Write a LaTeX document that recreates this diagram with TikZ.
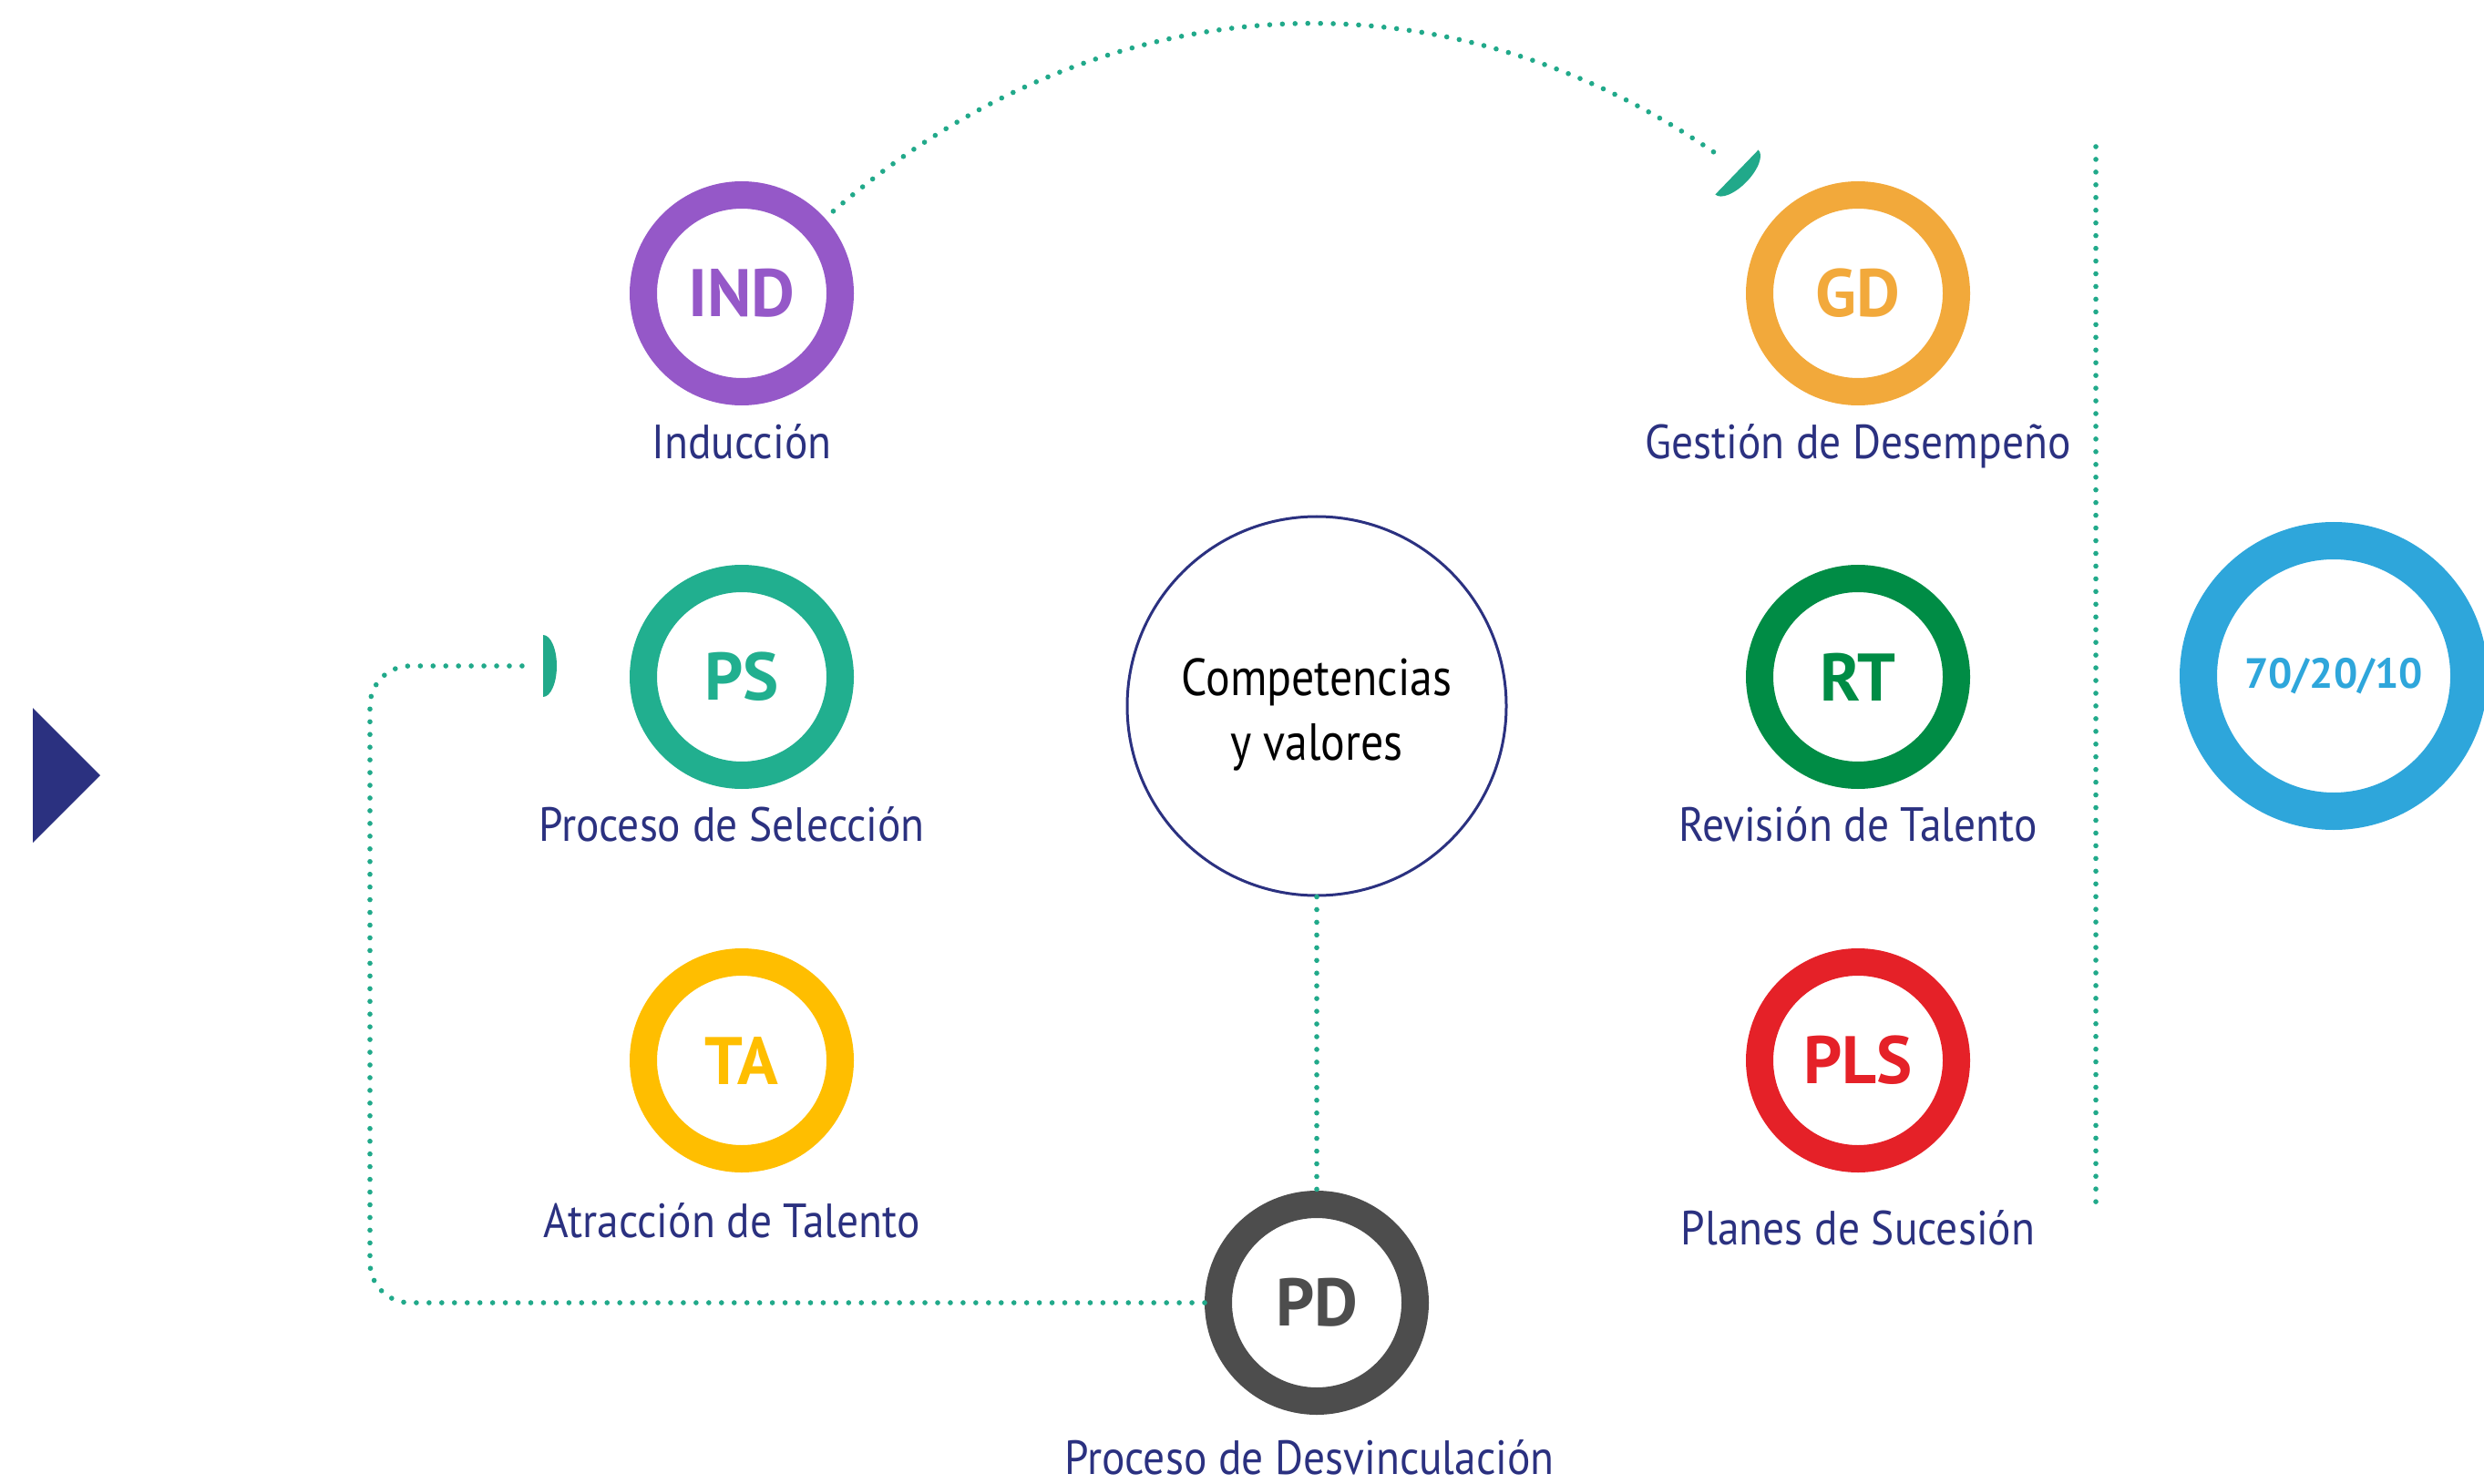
\documentclass[tikz,border=0pt]{standalone}
\usepackage{fontspec}
\setmainfont{PT Sans}
\newfontfamily\lblfont{PT Sans}[FakeStretch=0.9]
\newfontfamily\corefont{PT Sans}[FakeStretch=0.87]
\usetikzlibrary{positioning,calc}
\definecolor{navy}{HTML}{2B3180}
\definecolor{dotc}{HTML}{21A98A}
\definecolor{indc}{HTML}{9558C8}
\definecolor{psc}{HTML}{21AF8F}
\definecolor{tac}{HTML}{FFBE00}
\definecolor{gdc}{HTML}{F2A93B}
\definecolor{rtc}{HTML}{008C45}
\definecolor{plsc}{HTML}{E52128}
\definecolor{pdc}{HTML}{4D4D4D}
\definecolor{skyc}{HTML}{2EA6DB}
\newcommand{\capmark}[2]{\fill[dotc,shift={(#1)},rotate=#2] (0,0.34) arc[start angle=90,end angle=-90,x radius=0.15,y radius=0.34] -- cycle;}

\begin{document}
\begin{tikzpicture}[ring/.style={circle,draw=#1,text=#1,line width=0.30cm,minimum size=2.16cm,inner sep=0pt,
  font=\fontsize{21}{21}\selectfont\bfseries},
  lbl/.style={anchor=base,text=navy,inner sep=0pt,font=\lblfont\fontsize{15}{18}\selectfont},
  core/.style={circle,draw=navy,line width=0.03cm,minimum size=4.16cm,align=center,
  font=\corefont\fontsize{16.3}{20}\selectfont},
  dotline/.style={draw=dotc,line width=1.6pt,line cap=round,dash pattern=on 0pt off 3.97pt},
  node distance=4.21cm and 12.25cm,on grid]
  \useasboundingbox (0,0) rectangle (27.26,-16.29);
  \node[ring=indc] (ind) at (8.14,-3.22) {IND};
  \node[ring=psc,below=of ind] (ps) {PS};
  \node[ring=tac,below=of ps] (ta) {TA};
  \node[ring=gdc,right=of ind] (gd) {GD};
  \node[ring=rtc,below=of gd] (rt) {RT};
  \node[ring=plsc,below=of rt] (pls) {PLS};
  \node[core,text height=1.3cm] (cv) at (14.45,-7.75) {Competencias\\y valores};
  \node[ring=pdc] (pd) at (14.45,-14.30) {PD};
  \node[ring=skyc,line width=0.41cm,minimum size=2.97cm,font=\fontsize{13.2}{14}\selectfont\bfseries] (ten) at (25.61,-7.42) {70/20/10};
  % labels
  \node[lbl] (indl) at ($(ind.south)+(0,-0.58)$) {Inducción};
  \node[lbl] (psl) at ($(ps.south)+(-0.11,-0.57)$) {Proceso de Selección};
  \node[lbl] (tal) at ($(ta.south)+(-0.11,-0.71)$) {Atracción de Talento};
  \node[lbl] (gdl) at ($(gd.south)+(0,-0.58)$) {Gestión de Desempeño};
  \node[lbl] (rtl) at ($(rt.south)+(0,-0.57)$) {Revisión de Talento};
  \node[lbl] (plsl) at ($(pls.south)+(0,-0.79)$) {Planes de Sucesión};
  \node[lbl] (pdl) at ($(pd.south)+(-0.08,-0.65)$) {Proceso de Desvinculación};
  % marks and connectors
  \fill[navy] (0.36,-7.77) -- (1.10,-8.51) -- (0.36,-9.25) -- cycle;
  \coordinate (gdtip) at (18.88,-1.72);
  \coordinate (gdcap) at (19.06,-1.89);
  \coordinate (psloop) at (4.06,-7.31);
  \coordinate (pstip) at (5.81,-7.31);
  \coordinate (pscap) at (5.96,-7.31);
  \coordinate (vtop) at (23.00,-1.61);
  \coordinate (vbot) at (23.00,-13.29);
  \draw[dotline,shorten <=0.12cm] (ind.42) to[out=41,in=145] (gdtip);
  \capmark{gdcap}{-44}
  \draw[dotline,rounded corners=0.44cm] (pd.west) -| (psloop) -- (pstip);
  \capmark{pscap}{0}
  \draw[dotline] (cv.south) -- (pd.north);
  \draw[dotline] (vtop) -- (vbot);
\end{tikzpicture}
\end{document}
